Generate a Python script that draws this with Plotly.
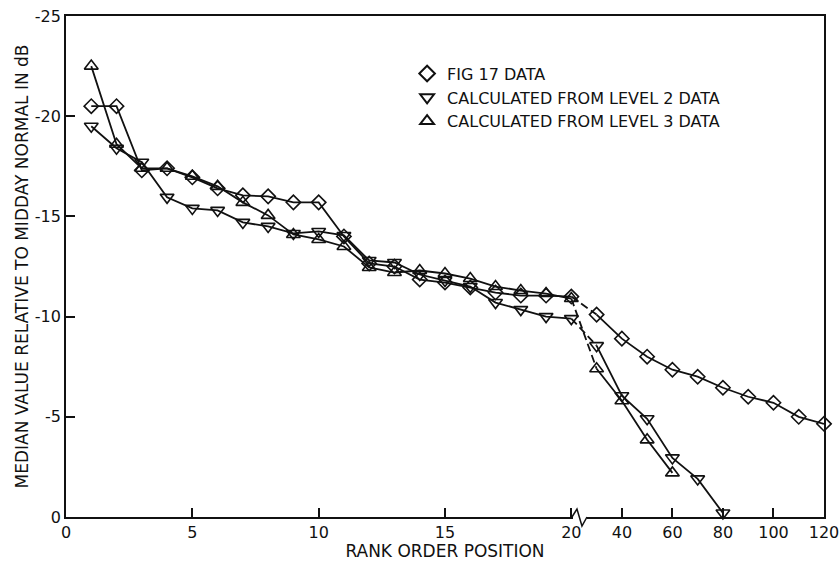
import plotly.graph_objects as go

# Rank order positions (positions past 20 are plotted on a compressed scale)
rank = [1, 2, 3, 4, 5, 6, 7, 8, 9, 10, 11, 12, 13, 14, 15, 16, 17, 18, 19, 20,
        30, 40, 50, 60, 70, 80, 90, 100, 110, 120]

fig17 = [-20.5, -20.5, -17.3, -17.4, -16.95, -16.4, -16.05, -16.0, -15.7, -15.7,
         -14.0, -12.65, -12.5, -11.85, -11.7, -11.45, -11.2, -11.05, -11.05, -11.0,
         -10.1, -8.9, -8.0, -7.35, -7.0, -6.45, -6.0, -5.7, -5.0, -4.65]

level2 = [-19.5, -18.4, -17.7, -15.95, -15.4, -15.3, -14.7, -14.5, -14.15, -14.25,
          -14.05, -12.8, -12.7, -12.1, -11.8, -11.5, -10.7, -10.35, -10.0, -9.9,
          -8.55, -6.05, -4.9, -2.95, -1.9, -0.2]

level3 = [-22.5, -18.6, -17.4, -17.4, -17.0, -16.5, -15.7, -15.05, -14.1, -13.85,
          -13.5, -12.45, -12.2, -12.3, -12.15, -11.9, -11.5, -11.3, -11.15, -10.9,
          -7.4, -5.8, -3.85, -2.2]

x_tick_labels = ["0", "5", "10", "15", "20", "40", "60", "80", "100", "120"]
x_tick_ranks = [0, 5, 10, 15, 20, 40, 60, 80, 100, 120]
y_tick_vals = [-25, -20, -15, -10, -5, 0]
y_tick_labels = ["-25", "-20", "-15", "-10", "-5", "0"]

series = [
    ("FIG 17 DATA", fig17, "diamond-open", 11),
    ("CALCULATED FROM LEVEL 2 DATA", level2, "triangle-down-open", 12),
    ("CALCULATED FROM LEVEL 3 DATA", level3, "triangle-up-open", 12),
]

INK = "#111111"
FONT = "DejaVu Sans"


def axis_pos(r):
    """Broken scale: linear up to 20, then 10x compressed beyond."""
    return r if r <= 20 else 20 + (r - 20) / 10.0


fig = go.Figure()

for name, vals, symbol, size in series:
    xs = [axis_pos(r) for r in rank[:len(vals)]]
    n_lo = sum(1 for r in rank[:len(vals)] if r <= 20)
    marker = dict(symbol=symbol, size=size, color=INK,
                  line=dict(color=INK, width=1.6))
    # solid part up to rank 20
    fig.add_trace(go.Scatter(x=xs[:n_lo], y=vals[:n_lo], mode="lines+markers",
                             line=dict(color=INK, width=1.8), marker=marker,
                             showlegend=False, cliponaxis=False))
    # dashed link across the scale break
    fig.add_trace(go.Scatter(x=xs[n_lo - 1:n_lo + 1], y=vals[n_lo - 1:n_lo + 1],
                             mode="lines", line=dict(color=INK, width=1.8, dash="8px,4px"),
                             showlegend=False, cliponaxis=False))
    # solid part beyond the break
    fig.add_trace(go.Scatter(x=xs[n_lo:], y=vals[n_lo:], mode="lines+markers",
                             line=dict(color=INK, width=1.8), marker=marker,
                             showlegend=False, cliponaxis=False))
    # legend entry (symbol only)
    fig.add_trace(go.Scatter(x=[None], y=[None], mode="markers", name=name,
                             marker=dict(symbol=symbol, size=9, color=INK,
                                         line=dict(color=INK, width=1.6))))

# plot area in pixels
L, T, W, H = 66, 16, 758, 501


def px(xp, yp):
    return (xp - L) / W, (T + H - yp) / H


def path_of(pts):
    return "M " + " L ".join(f"{px(a, b)[0]:.4f},{px(a, b)[1]:.4f}" for a, b in pts)


# axis break zig-zag on the bottom axis
ybase = T + H
fig.add_shape(type="line", xref="paper", yref="paper",
              x0=px(573, ybase)[0], x1=px(587, ybase)[0], y0=0, y1=0,
              line=dict(color="white", width=4), layer="above")
fig.add_shape(type="path", path=path_of([(572, ybase), (577, ybase - 8),
                                         (582, ybase + 9), (587, ybase)]),
              xref="paper", yref="paper", line=dict(color=INK, width=1.5),
              layer="above")

fig.update_layout(
    width=839, height=561,
    margin=dict(l=L, r=839 - L - W, t=T, b=561 - T - H),
    paper_bgcolor="white", plot_bgcolor="white",
    font=dict(family=FONT, size=16, color=INK),
    showlegend=True,
    legend=dict(x=0.450, y=0.919, xanchor="left", yanchor="top",
                bgcolor="rgba(0,0,0,0)", font=dict(size=16, family=FONT),
                itemsizing="constant", itemwidth=30, tracegroupgap=0),
    xaxis=dict(range=[0, 30], tickmode="array", automargin=False,
               ticklabeloverflow="allow",
               tickvals=[axis_pos(r) for r in x_tick_ranks], ticktext=x_tick_labels,
               ticks="inside", ticklen=9, tickwidth=1.5, tickcolor=INK,
               showline=True, linecolor=INK, linewidth=1.8, mirror=True,
               showgrid=False, zeroline=False,
               tickfont=dict(size=16, family=FONT),
               title=dict(text="RANK ORDER POSITION", font=dict(size=17, family=FONT),
                          standoff=4)),
    yaxis=dict(range=[0, -25], tickmode="array", automargin=False,
               ticklabeloverflow="allow",
               tickvals=y_tick_vals, ticktext=y_tick_labels,
               ticks="inside", ticklen=9, tickwidth=1.5, tickcolor=INK,
               showline=True, linecolor=INK, linewidth=1.8, mirror=True,
               showgrid=False, zeroline=False,
               tickfont=dict(size=16, family=FONT),
               title=dict(text="MEDIAN VALUE RELATIVE TO MIDDAY NORMAL IN dB",
                          font=dict(size=17, family=FONT), standoff=2)),
)

fig.write_html("out.html")
